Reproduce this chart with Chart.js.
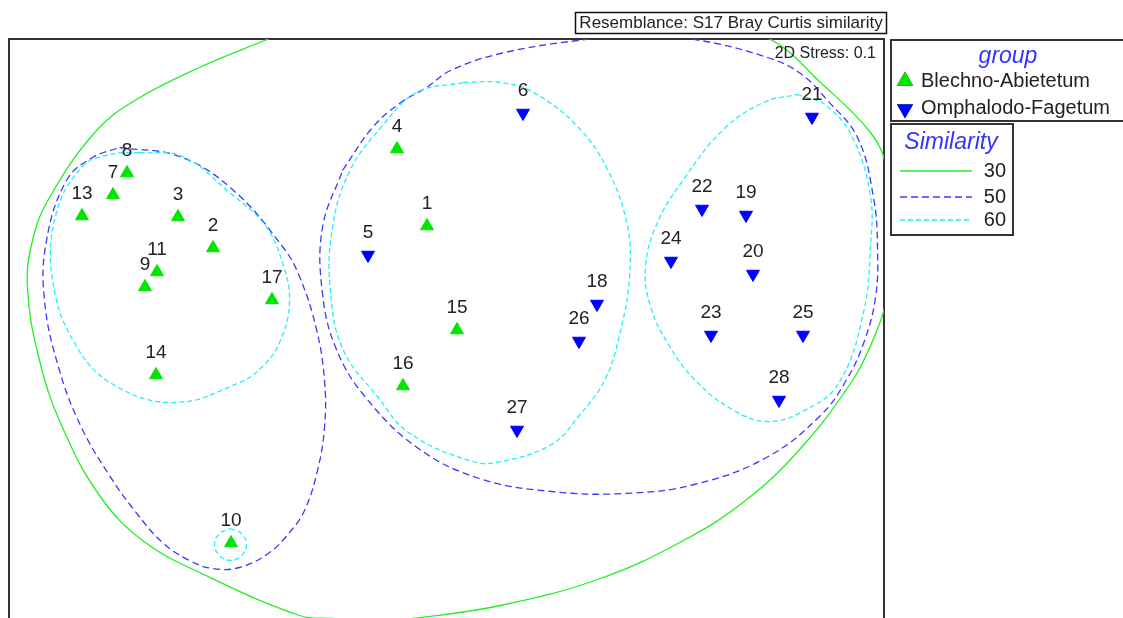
<!DOCTYPE html>
<html>
<head>
<meta charset="utf-8">
<script src="https://cdn.jsdelivr.net/npm/chart.js@4"></script>
<style>
  html, body { margin: 0; padding: 0; background: #fff; overflow: hidden; }
  canvas { display: block; }
</style>
</head>
<body>
<canvas id="mds" width="1123" height="618"></canvas>
<script>
// nMDS coordinates of the samples
const blechnoIds = [1, 2, 3, 4, 7, 8, 9, 10, 11, 13, 14, 15, 16, 17];
const blechnoX = [-0.195, -2.335, -2.685, -0.495, -3.335, -3.195, -3.015, -2.155, -2.895, -3.645, -2.905, 0.105, -0.435, -1.745];
const blechnoY = [1.025, 0.805, 1.115, 1.795, 1.335, 1.555, 0.415, -2.145, 0.565, 1.125, -0.465, -0.015, -0.575, 0.285];

const omphIds = [5, 6, 18, 19, 20, 21, 22, 23, 24, 25, 26, 27, 28];
const omphX = [-0.785, 0.765, 1.505, 2.995, 3.065, 3.655, 2.555, 2.645, 2.245, 3.565, 1.325, 0.705, 3.325];
const omphY = [0.735, 2.155, 0.245, 1.135, 0.545, 2.115, 1.195, -0.065, 0.675, -0.065, -0.125, -1.015, -0.715];

// similarity contours (cluster overlays), traced as closed outlines
const contour30 = [
  [-1.77, 2.90], [-1.17, 3.07], [-0.27, 3.21], [0.74, 3.26], [1.74, 3.21], [2.54, 3.09],
  [3.24, 2.89], [3.74, 2.46], [4.24, 1.96], [4.40, 1.62], [4.46, 1.10], [4.44, 0.55],
  [4.38, 0.20], [4.25, -0.15], [4.06, -0.52], [3.54, -1.20], [2.99, -1.72], [2.37, -2.12],
  [1.54, -2.50], [0.54, -2.77], [-0.34, -2.90], [-0.74, -2.94], [-1.14, -2.90], [-1.47, -2.87],
  [-2.47, -2.44], [-3.04, -2.12], [-3.47, -1.67], [-3.84, -0.99], [-4.07, -0.32], [-4.19, 0.41],
  [-4.14, 0.88], [-3.97, 1.31], [-3.50, 1.98], [-3.10, 2.29], [-2.47, 2.61]
];
const contour50a = [
  [-3.27, 1.81], [-2.67, 1.72], [-2.14, 1.39], [-1.64, 0.82], [-1.47, 0.52], [-1.30, -0.01],
  [-1.22, -0.52], [-1.22, -0.99], [-1.29, -1.42], [-1.42, -1.82], [-1.57, -2.04], [-1.77, -2.24],
  [-2.07, -2.39], [-2.34, -2.40], [-2.57, -2.32], [-2.84, -2.14], [-3.12, -1.82], [-3.37, -1.47],
  [-3.65, -0.99], [-3.87, -0.42], [-4.02, 0.28], [-4.00, 0.88], [-3.80, 1.48], [-3.54, 1.71]
];
const contour50b = [
  [-1.04, 1.58], [-0.74, 2.01], [-0.47, 2.25], [-0.20, 2.41], [0.04, 2.58], [0.54, 2.75],
  [1.31, 2.88], [1.94, 2.93], [2.54, 2.88], [3.21, 2.71], [3.54, 2.55], [3.81, 2.28],
  [4.11, 1.91], [4.27, 1.31], [4.31, 0.81], [4.29, 0.31], [4.17, -0.15], [3.99, -0.53],
  [3.74, -0.87], [3.20, -1.29], [2.48, -1.56], [1.77, -1.65], [1.05, -1.63], [0.33, -1.50],
  [-0.28, -1.20], [-0.80, -0.70], [-1.10, -0.21], [-1.24, 0.35], [-1.24, 1.01]
];
const contour60a = [
  [-3.07, 1.76], [-2.64, 1.72], [-2.17, 1.36], [-1.82, 1.04], [-1.64, 0.66], [-1.57, 0.26],
  [-1.67, -0.14], [-1.85, -0.39], [-2.07, -0.54], [-2.70, -0.74], [-3.30, -0.58], [-3.70, -0.18],
  [-3.94, 0.49], [-3.90, 1.16], [-3.64, 1.62], [-3.37, 1.74]
];
const contour60b = [
  [-2.16, -2.00], [-2.05, -2.05], [-2.00, -2.16], [-2.05, -2.27],
  [-2.16, -2.32], [-2.27, -2.27], [-2.32, -2.16], [-2.27, -2.05]
];
const contour60c = [
  [0.17, 2.46], [0.54, 2.46], [0.87, 2.36], [1.31, 2.02], [1.61, 1.59], [1.81, 1.02],
  [1.83, 0.52], [1.75, 0.02], [1.59, -0.50], [1.32, -0.88], [1.05, -1.16], [0.55, -1.33],
  [0.26, -1.33], [-0.38, -1.04], [-0.69, -0.68], [-1.03, -0.22], [-1.16, 0.36], [-1.14, 1.01],
  [-0.96, 1.59], [-0.63, 2.04], [-0.30, 2.36]
];
const contour60d = [
  [3.51, 2.34], [3.81, 2.22], [4.07, 1.89], [4.24, 1.32], [4.24, 0.82], [4.17, 0.16],
  [3.92, -0.55], [3.56, -0.83], [3.20, -0.93], [2.84, -0.80], [2.48, -0.51], [2.22, -0.16],
  [2.04, 0.22], [1.99, 0.62], [2.11, 1.06], [2.37, 1.49], [2.77, 1.99], [3.17, 2.26]
];

const simLevels = ['30', '50', '60'];
const groupNames = ['Blechno-Abietetum', 'Omphalodo-Fagetum'];

const GREEN = '#00e600';
const BLUE = '#0000ff';
const C30 = '#22f022';
const C50 = '#3a3aff';
const C60 = '#22f0f8';
const FONT = '"Liberation Sans", Arial, sans-serif';

function toPts(xs, ys) {
  return xs.map((x, i) => ({ x: x, y: ys[i] }));
}

function loop(arr) {
  const pts = arr.map(p => ({ x: p[0], y: p[1] }));
  pts.push({ x: arr[0][0], y: arr[0][1] });
  return pts;
}

function contourSet(arr, color, dash) {
  return {
    type: 'line',
    data: loop(arr),
    borderColor: color,
    borderWidth: 1.3,
    borderDash: dash,
    pointRadius: 0,
    fill: false,
    tension: 0.4,
    clip: 0
  };
}

const pointLabels = {
  id: 'pointLabels',
  afterDatasetsDraw(chart) {
    const ctx = chart.ctx;
    ctx.save();
    ctx.font = '19px ' + FONT;
    ctx.fillStyle = '#222';
    ctx.textAlign = 'center';
    ctx.textBaseline = 'middle';
    [0, 1].forEach(i => {
      const ds = chart.data.datasets[i];
      chart.getDatasetMeta(i).data.forEach((p, j) => {
        ctx.fillText(ds.ids[j], p.x, p.y - 22);
      });
    });
    ctx.restore();
  }
};

function tri(ctx, x, y, color, rot) {
  Chart.helpers.drawPoint(ctx, {
    pointStyle: 'triangle', radius: 7.5, rotation: rot, borderWidth: 1
  }, x, y);
  ctx.fillStyle = color;
  ctx.strokeStyle = color;
  ctx.fill();
  ctx.stroke();
}

const decorations = {
  id: 'decorations',
  beforeDatasetsDraw(chart) {
    const ctx = chart.ctx;
    const a = chart.chartArea;
    ctx.save();
    ctx.strokeStyle = '#333';
    ctx.lineWidth = 2;
    ctx.beginPath();
    ctx.moveTo(a.left, a.bottom + 2);
    ctx.lineTo(a.left, a.top);
    ctx.lineTo(a.right, a.top);
    ctx.lineTo(a.right, a.bottom + 2);
    ctx.stroke();
    ctx.restore();
  },
  afterDraw(chart) {
    const ctx = chart.ctx;
    ctx.save();
    // resemblance box
    ctx.strokeStyle = '#111';
    ctx.lineWidth = 1.5;
    ctx.strokeRect(575.5, 12.5, 311, 21);
    ctx.fillStyle = '#222';
    ctx.font = '17px ' + FONT;
    ctx.textAlign = 'center';
    ctx.textBaseline = 'middle';
    ctx.fillText('Resemblance: S17 Bray Curtis similarity', 731, 23.5);

    // stress
    ctx.font = '16px ' + FONT;
    ctx.textAlign = 'right';
    ctx.fillText('2D Stress: 0.1', 876, 54);

    // group legend
    ctx.strokeStyle = '#333';
    ctx.lineWidth = 2;
    ctx.strokeRect(891, 40, 260, 81);
    ctx.fillStyle = '#3333ff';
    ctx.font = 'italic 23px ' + FONT;
    ctx.textAlign = 'center';
    ctx.fillText('group', 1008, 57);
    tri(ctx, 905, 81, GREEN, 0);
    tri(ctx, 905, 109, BLUE, 180);
    ctx.fillStyle = '#222';
    ctx.font = '20px ' + FONT;
    ctx.textAlign = 'left';
    ctx.fillText(groupNames[0], 921, 81);
    ctx.fillText(groupNames[1], 921, 108);

    // similarity legend
    ctx.strokeStyle = '#333';
    ctx.lineWidth = 2;
    ctx.strokeRect(891, 124, 122, 111);
    ctx.fillStyle = '#3333ff';
    ctx.font = 'italic 23px ' + FONT;
    ctx.textAlign = 'center';
    ctx.fillText('Similarity', 951, 143);
    const cols = [C30, C50, C60];
    const dashes = [[], [7, 4], [5, 3]];
    const ys = [171, 197, 220];
    ctx.font = '20px ' + FONT;
    ctx.textAlign = 'right';
    simLevels.forEach((lv, i) => {
      ctx.strokeStyle = cols[i];
      ctx.lineWidth = 1.5;
      ctx.setLineDash(dashes[i]);
      ctx.beginPath();
      ctx.moveTo(900, ys[i]);
      ctx.lineTo(972, ys[i]);
      ctx.stroke();
      ctx.setLineDash([]);
      ctx.fillStyle = '#222';
      ctx.fillText(lv, 1006, ys[i]);
    });
    ctx.restore();
  }
};

const chart = new Chart(document.getElementById('mds'), {
  type: 'scatter',
  data: {
    datasets: [
      {
        label: groupNames[0], ids: blechnoIds, data: toPts(blechnoX, blechnoY),
        pointStyle: 'triangle', rotation: 0, pointRadius: 7.5, pointBorderWidth: 1,
        backgroundColor: GREEN, borderColor: GREEN, showLine: false
      },
      {
        label: groupNames[1], ids: omphIds, data: toPts(omphX, omphY),
        pointStyle: 'triangle', rotation: 180, pointRadius: 7.5, pointBorderWidth: 1,
        backgroundColor: BLUE, borderColor: BLUE, showLine: false
      },
      contourSet(contour60a, C60, [5, 3]),
      contourSet(contour60b, C60, [5, 3]),
      contourSet(contour60c, C60, [5, 3]),
      contourSet(contour60d, C60, [5, 3]),
      contourSet(contour50a, C50, [7, 4]),
      contourSet(contour50b, C50, [7, 4]),
      contourSet(contour30, C30, [])
    ]
  },
  options: {
    responsive: false,
    animation: false,
    layout: { autoPadding: false, padding: { left: 9, top: 39, right: 239, bottom: 0 } },
    scales: {
      x: { type: 'linear', min: -4.375, max: 4.375, display: false },
      y: { type: 'linear', min: -2.895, max: 2.895, display: false }
    },
    plugins: {
      legend: { display: false },
      tooltip: { enabled: false }
    }
  },
  plugins: [decorations, pointLabels]
});
</script>
</body>
</html>
